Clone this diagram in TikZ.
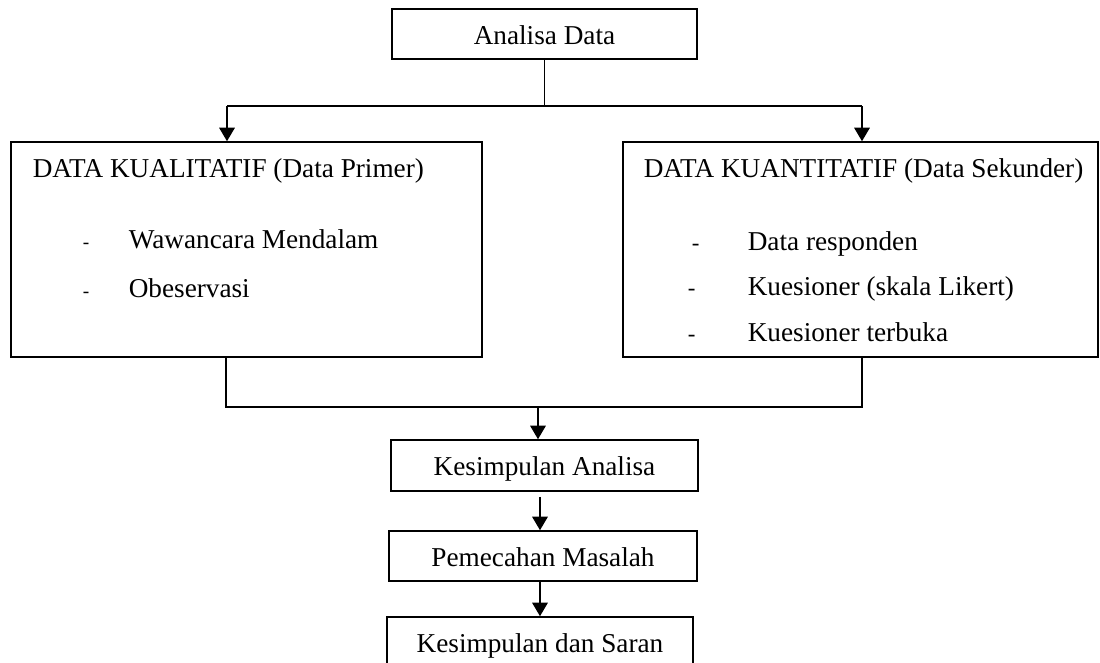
\documentclass[tikz,border=0pt]{standalone}
\usepackage{fontspec}
\setmainfont{Liberation Serif}
\usepackage{tikz}
\usetikzlibrary{arrows.meta,calc,positioning}

\begin{document}
\begin{tikzpicture}[x=0.02cm, y=-0.02cm, line width=0.9pt]
	\tikzstyle{every node} = [font=\fontsize{15.5}{18}\selectfont]
	\tikzstyle{kotak} = [draw = black, inner sep=0pt, text height=0.5cm, text depth=0.1cm]
	\tikzstyle{teks} = [inner sep=0pt, anchor=base west]
	\tikzstyle{strip} = [teks, font=\fontsize{11}{12}\selectfont]
	\tikzstyle{panah} = [-{Triangle[length=0.27cm, width=0.31cm]}]
	\useasboundingbox (0,0) rectangle (1100,663);

\node[kotak, minimum width=6.1cm, minimum height=1cm] (0) at (544.5,34) {Analisa Data};
\node[kotak, minimum width=9.42cm, minimum height=4.3cm] (1) at (246.5,249.5) {};
\node[kotak, minimum width=9.5cm, minimum height=4.3cm] (2) at (860.5,249.5) {};
\node[kotak, minimum width=6.14cm, minimum height=1.02cm] (3) at (544.5,465.5) {Kesimpulan Analisa};
\node[kotak, minimum width=6.16cm, minimum height=1cm] (4) at (543,556) {Pemecahan Masalah};
\node[kotak, minimum width=6.12cm, minimum height=1cm] (5) at (540,642) {Kesimpulan dan Saran};

	% isi kotak kiri
	\node[teks] at (32,177) {DATA KUALITATIF (Data Primer)};
	\node[strip] at (82,248) {-};
	\node[teks] at (128,248) {Wawancara Mendalam};
	\node[strip] at (82,297) {-};
	\node[teks] at (128,297) {Obeservasi};

	% isi kotak kanan
	\node[teks] at (643,177) {DATA KUANTITATIF (Data Sekunder)};
	\node[strip, font=\fontsize{13}{14}\selectfont] at (691,250) {-};
	\node[teks] at (747,250) {Data responden};
	\node[strip, font=\fontsize{13}{14}\selectfont] at (687,295) {-};
	\node[teks] at (747,295) {Kuesioner (skala Likert)};
	\node[strip, font=\fontsize{13}{14}\selectfont] at (687,341) {-};
	\node[teks] at (747,341) {Kuesioner terbuka};

\coordinate (a) at (227,106);
\coordinate (b) at (862,106);
\coordinate (c) at (226,407);
\coordinate (d) at (862,407);
\coordinate (e) at (538,407);
	\path[draw] (0.south) -- (0.south |- a);
	\path[draw] (a) -- (b);
	\path[draw, panah] (a) -- (a |- 1.north);
	\path[draw, panah] (b) -- (b |- 2.north);
	\path[draw] (c |- 1.south) -- (c) -- (d) -- (d |- 2.south);
	\path[draw, panah] (e) -- (e |- 3.north);
	\path[draw, panah, shorten <=0.1cm] (3.south -| 540,0) -- (4.north -| 540,0);
	\path[draw, panah] (4.south -| 540,0) -- (5.north -| 540,0);
\end{tikzpicture}
\end{document}
